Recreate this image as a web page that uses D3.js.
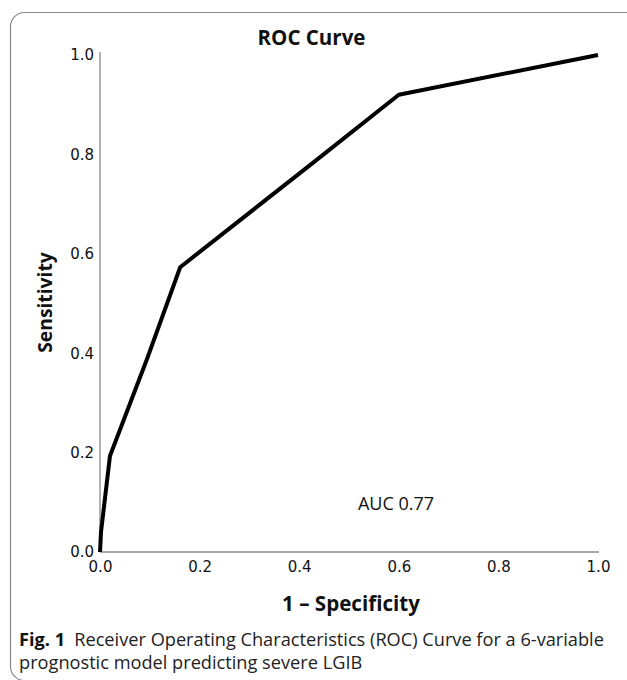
<!DOCTYPE html>
<html><head><meta charset="utf-8">
<script src="https://cdn.jsdelivr.net/npm/d3@7"></script>
<style>body{margin:0;background:#fff}</style>
</head><body>
<script>
const fpr = [0, 0.002, 0.02, 0.095, 0.161, 0.43, 0.6, 1.0];
const tpr = [0, 0.04, 0.193, 0.39, 0.573, 0.785, 0.92, 1.0];
const xTicks = [0, 0.2, 0.4, 0.6, 0.8, 1.0];
const yTicks = [0, 0.2, 0.4, 0.6, 0.8, 1.0];
const titleText = "ROC Curve";
const xLabel = "1 \u2013 Specificity";
const yLabel = "Sensitivity";
const aucText = "AUC 0.77";
const captionBold = "Fig. 1";
const captionLine1 = "Receiver Operating Characteristics (ROC) Curve for a 6-variable";
const captionLine2 = "prognostic model predicting severe LGIB";

const W = 627, H = 680;
const svg = d3.select("body").append("svg").attr("width", W).attr("height", H);

svg.append("rect").attr("x", 10.5).attr("y", 12.5).attr("width", 640).attr("height", 668)
  .attr("rx", 14).attr("fill", "none").attr("stroke", "#8a8a8a").attr("stroke-width", 1.2);

const x = d3.scaleLinear().domain([0, 1]).range([100, 598]);
const y = d3.scaleLinear().domain([0, 1]).range([552, 55]);

const fmt = d3.format(".1f");
const xAxis = svg.append("g").attr("transform", "translate(0,552)")
  .call(d3.axisBottom(x).tickValues(xTicks).tickFormat(fmt).tickSize(0).tickPadding(9));
const yAxis = svg.append("g").attr("transform", "translate(100,0)")
  .call(d3.axisLeft(y).tickValues(yTicks).tickFormat(fmt).tickSize(0).tickPadding(6));
[xAxis, yAxis].forEach(g => {
  g.select(".domain").attr("stroke", "#8a8a8a").attr("stroke-width", 1.3);
  g.selectAll("text").attr("font-family", "DejaVu Sans").attr("font-size", 15).attr("fill", "#111");
});
yAxis.select(".domain").attr("d", "M0,552V52");
xAxis.select(".domain").attr("d", "M100,0H599");

const pts = fpr.map((v, i) => [v, tpr[i]]);
svg.append("path").datum(pts)
  .attr("d", d3.line().x(d => x(d[0])).y(d => y(d[1])))
  .attr("fill", "none").attr("stroke", "#000").attr("stroke-width", 4)
  .attr("stroke-linejoin", "round");

svg.append("text").attr("x", 311.5).attr("y", 45).attr("text-anchor", "middle")
  .attr("font-family", "Open Sans").attr("font-weight", "bold").attr("font-size", 20.5)
  .attr("fill", "#111").text(titleText);

svg.append("text").attr("x", 351).attr("y", 611).attr("text-anchor", "middle")
  .attr("font-family", "Open Sans").attr("font-weight", "bold").attr("font-size", 20.6)
  .attr("fill", "#111").text(xLabel);

svg.append("text").attr("transform", "translate(52,302.5) rotate(-90)").attr("text-anchor", "middle")
  .attr("font-family", "Open Sans").attr("font-weight", "bold").attr("font-size", 19.3)
  .attr("fill", "#111").text(yLabel);

svg.append("text").attr("x", 396).attr("y", 510).attr("text-anchor", "middle")
  .attr("font-family", "Open Sans").attr("font-size", 18).attr("fill", "#111")
  .text(aucText);

const cap = svg.append("text").attr("x", 19).attr("y", 646)
  .attr("font-family", "Open Sans").attr("font-size", 18.2).attr("fill", "#222");
cap.append("tspan").attr("font-weight", "bold").attr("fill", "#111").text(captionBold);
cap.append("tspan").text("\u2002" + captionLine1);
svg.append("text").attr("x", 19).attr("y", 669)
  .attr("font-family", "Open Sans").attr("font-size", 18.2).attr("fill", "#222")
  .text(captionLine2);
</script>
</body></html>
